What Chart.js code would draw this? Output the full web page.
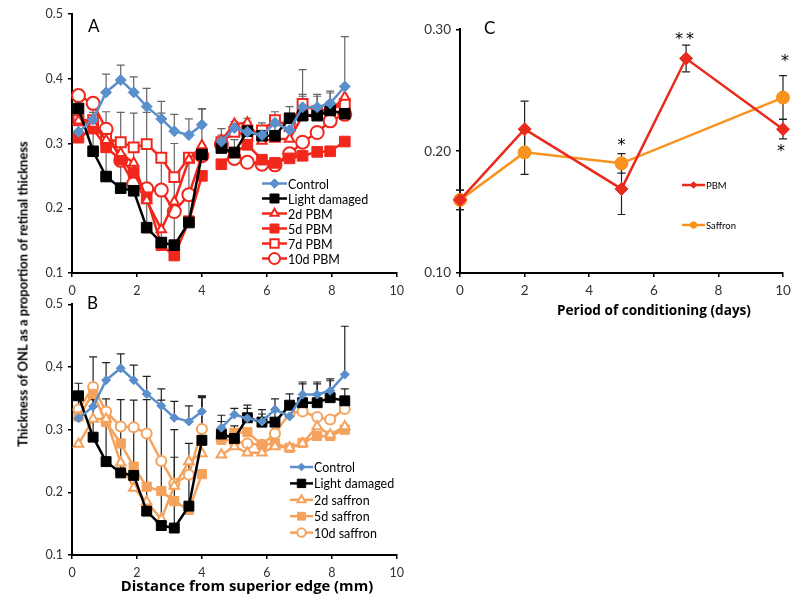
<!DOCTYPE html>
<html>
<head>
<meta charset="utf-8">
<script src="https://cdn.jsdelivr.net/npm/chart.js@4.4.1/dist/chart.umd.min.js"></script>
<style>
  body { margin: 0; width: 800px; height: 597px; background: #fff; position: relative; overflow: hidden; font-family: Lato, "Open Sans", sans-serif; }
  canvas { position: absolute; }
  .lbl { position: absolute; color: #000; white-space: nowrap; line-height: 1; }
  .center { transform: translate(-50%, -50%); }
</style>
</head>
<body>
<canvas id="chartA" width="410" height="300" style="left:0;top:0"></canvas>
<canvas id="chartB" width="410" height="307" style="left:0;top:290px"></canvas>
<canvas id="chartC" width="400" height="330" style="left:400px;top:0"></canvas>

<div class="lbl" style="left:88px;top:17px;font-size:17px">A</div>
<div class="lbl" style="left:87px;top:294px;font-size:17px">B</div>
<div class="lbl" style="left:484px;top:19px;font-size:17px">C</div>
<div class="lbl" style="left:23px;top:294px;font-size:13px;font-weight:bold;transform:translate(-50%,-50%) rotate(-90deg)">Thickness of ONL as a proportion of retinal thickness</div>
<div class="lbl center" style="left:247px;top:585px;font-size:14.8px;font-weight:bold;font-family:'Open Sans',sans-serif">Distance from superior edge (mm)</div>
<div class="lbl center" style="left:654px;top:310px;font-size:13.6px;font-weight:bold;font-family:'Open Sans',sans-serif">Period of conditioning (days)</div>

<script>
// distance from superior edge (mm) - inferior and superior halves
const distance = [0.2, 0.65, 1.05, 1.5, 1.9, 2.3, 2.75, 3.15, 3.6, 4.0, 4.6, 5.0, 5.4, 5.85, 6.25, 6.7, 7.1, 7.55, 7.95, 8.4];

const control = [0.318, 0.337, 0.379, 0.398, 0.379, 0.357, 0.338, 0.319, 0.313, 0.329, 0.303, 0.324, 0.318, 0.313, 0.332, 0.321, 0.356, 0.356, 0.362, 0.388];
const controlErr = [0.035, 0.03, 0.028, 0.023, 0.024, 0.028, 0.027, 0.026, 0.025, 0.025, 0.02, 0.01, 0.016, 0.012, 0.017, 0.02, 0.02, 0.02, 0.016, 0.077];
const lightDamaged = [0.354, 0.288, 0.249, 0.231, 0.227, 0.17, 0.147, 0.143, 0.178, 0.283, 0.293, 0.286, 0.319, 0.312, 0.312, 0.339, 0.343, 0.343, 0.351, 0.346];
const lightDamagedErr = [0.02, 0.06, 0.1, 0.117, 0.12, 0.178, 0.2, 0.157, 0.1, 0.07, 0.02, 0.02, 0.02, 0.02, 0.02, 0.018, 0.03, 0.03, 0.03, 0.019];

const pbm2d = [0.335, 0.33, 0.305, 0.285, 0.27, 0.212, 0.167, 0.21, 0.275, 0.297, 0.305, 0.33, 0.332, 0.304, 0.307, 0.307, 0.343, 0.345, 0.35, 0.372];
const pbm5d = [0.309, 0.323, 0.294, 0.275, 0.255, 0.217, 0.143, 0.127, 0.18, 0.25, 0.268, 0.286, 0.298, 0.275, 0.27, 0.277, 0.281, 0.287, 0.288, 0.303];
const pbm7d = [0.336, 0.336, 0.307, 0.302, 0.294, 0.299, 0.278, 0.248, 0.278, 0.283, 0.302, 0.318, 0.312, 0.32, 0.336, 0.327, 0.361, 0.35, 0.353, 0.361];
const pbm7dErr = [null, null, null, null, null, null, null, null, null, null, null, null, null, null, null, null, 0.053, null, null, null];
const pbm10d = [0.374, 0.362, 0.322, 0.274, 0.238, 0.23, 0.228, 0.195, 0.221, 0.281, 0.299, 0.277, 0.271, 0.268, 0.267, 0.284, 0.302, 0.317, 0.335, 0.345];

const saffron2d = [0.277, 0.317, 0.317, 0.247, 0.207, 0.185, 0.157, 0.21, 0.249, 0.262, 0.26, 0.273, 0.263, 0.263, 0.273, 0.271, 0.278, 0.305, 0.292, 0.305];
const saffron5d = [0.321, 0.357, 0.312, 0.278, 0.241, 0.209, 0.202, 0.186, 0.172, 0.229, 0.284, 0.295, 0.296, 0.276, 0.278, 0.271, 0.279, 0.29, 0.29, 0.3];
const saffron10d = [0.332, 0.368, 0.329, 0.305, 0.304, 0.294, 0.25, 0.214, 0.228, 0.301, 0.285, 0.281, 0.278, 0.276, 0.294, 0.326, 0.329, 0.32, 0.316, 0.333];
const saffron10dErr = [null, 0.048, null, null, null, null, null, 0.042, null, 0.05, null, null, null, null, null, null, null, null, null, null];

// panel C
const days = [0, 2, 5, 7, 10];
const pbmMean = [0.16, 0.218, 0.169, 0.276, 0.218];
const pbmErr = [0.008, 0.023, 0.021, 0.011, 0.008];
const saffronDays = [0, 2, 5, 10];
const saffronMean = [0.16, 0.199, 0.19, 0.244];
const saffronErr = [0.008, 0.018, 0.008, 0.018];
const starMarks = [
  { day: 5, value: 0.208, text: "*" },
  { day: 6.78, value: 0.295, text: "*" },
  { day: 7.12, value: 0.295, text: "*" },
  { day: 10.06, value: 0.277, text: "*" },
  { day: 9.94, value: 0.203, text: "*" }
];

const RED = "#f2271c";
const ORANGE = "#f5a25d";
const BLUE = "#5b8fcb";

// split into two line segments (gap between 4.0 and 4.6)
function toPoints(xs, ys, errs) {
  const pts = [];
  xs.forEach(function (x, i) {
    pts.push({ x: x, y: ys[i], err: errs ? errs[i] : null });
    if (i === 9) pts.push({ x: 4.3, y: null, err: null });
  });
  return pts;
}

function series(label, ys, errs, color, style, radius, open) {
  return {
    label: label,
    data: toPoints(distance, ys, errs),
    borderColor: color,
    backgroundColor: color,
    borderWidth: 2.5,
    pointStyle: style,
    pointRadius: radius,
    pointHoverRadius: radius,
    pointBackgroundColor: open ? "#fff" : color,
    pointBorderColor: color,
    pointBorderWidth: open ? 2 : 1,
    spanGaps: false,
    clip: false,
    tension: 0
  };
}

const errorBars = {
  id: "errorBars",
  beforeDatasetsDraw(chart, args, opts) {
    const ctx = chart.ctx;
    const xs = chart.scales.x, ys = chart.scales.y;
    ctx.save();
    ctx.strokeStyle = opts.color || "#000";
    ctx.lineWidth = 1.2;
    chart.data.datasets.forEach(function (ds) {
      ds.data.forEach(function (p) {
        if (p.y == null || p.err == null) return;
        const px = xs.getPixelForValue(p.x);
        const py = ys.getPixelForValue(p.y);
        const hi = ys.getPixelForValue(p.y + p.err);
        const lo = opts.both ? ys.getPixelForValue(p.y - p.err) : py;
        ctx.beginPath();
        ctx.moveTo(px, lo); ctx.lineTo(px, hi);
        ctx.moveTo(px - 4, hi); ctx.lineTo(px + 4, hi);
        if (opts.both) { ctx.moveTo(px - 4, lo); ctx.lineTo(px + 4, lo); }
        ctx.stroke();
      });
    });
    ctx.restore();
  }
};

const boxLegend = {
  id: "boxLegend",
  afterDraw(chart, args, opts) {
    const ctx = chart.ctx;
    ctx.save();
    ctx.font = opts.font;
    ctx.textBaseline = "middle";
    ctx.fillStyle = "#000";
    chart.data.datasets.forEach(function (ds, i) {
      const y = opts.y + i * opts.dy;
      ctx.strokeStyle = ds.borderColor;
      ctx.lineWidth = ds.borderWidth;
      ctx.beginPath();
      ctx.moveTo(opts.x, y);
      ctx.lineTo(opts.x + opts.len, y);
      ctx.stroke();
      ctx.fillStyle = ds.pointBackgroundColor;
      ctx.strokeStyle = ds.pointBorderColor;
      ctx.lineWidth = ds.pointBorderWidth;
      Chart.helpers.drawPoint(ctx, { pointStyle: ds.pointStyle, radius: ds.pointRadius * (opts.scale || 1), borderWidth: ds.pointBorderWidth, rotation: 0 }, opts.x + opts.len / 2, y);
      ctx.fillStyle = "#000";
      ctx.fillText(ds.label, opts.x + opts.len + 1, y + 1);
    });
    ctx.restore();
  }
};

const starText = {
  id: "starText",
  afterDatasetsDraw(chart, args, opts) {
    if (!opts.items) return;
    const ctx = chart.ctx;
    const size = 16;
    ctx.save();
    ctx.font = size + "px 'DejaVu Sans', sans-serif";
    ctx.fillStyle = "#000";
    ctx.textAlign = "center";
    ctx.textBaseline = "alphabetic";
    opts.items.forEach(function (s) {
      ctx.fillText(s.text, chart.scales.x.getPixelForValue(s.day), chart.scales.y.getPixelForValue(s.value) + size * 0.55);
    });
    ctx.restore();
  }
};

Chart.register(errorBars, boxLegend, starText);

function axes(yMin, yMax, yStep, yDigits, yWidth, xHeight, tickPad, fontSize) {
  return {
    x: {
      type: "linear", min: 0, max: 10,
      ticks: { stepSize: 2, color: "#333", font: { size: fontSize }, padding: tickPad },
      grid: { display: true, drawOnChartArea: false, drawTicks: true, tickLength: 4, color: "#000", lineWidth: 1.5 },
      border: { color: "#000", width: 2 },
      afterFit: function (s) { s.height = xHeight; }
    },
    y: {
      min: yMin, max: yMax,
      ticks: { stepSize: yStep, color: "#333", font: { size: fontSize }, padding: 5,
        callback: function (v) { return v.toFixed(yDigits); } },
      grid: { display: true, drawOnChartArea: false, drawTicks: true, tickLength: 4, color: "#000", lineWidth: 1.5 },
      border: { color: "#000", width: 2 },
      afterFit: function (s) { s.width = yWidth; }
    }
  };
}

Chart.defaults.font.family = "Lato, 'Open Sans', sans-serif";

new Chart(document.getElementById("chartA"), {
  type: "line",
  data: {
    datasets: [
      series("Control", control, controlErr, BLUE, "rectRot", 5.5, false),
      series("Light damaged", lightDamaged, lightDamagedErr, "#000", "rect", 7.5, false),
      series("2d PBM", pbm2d, null, RED, "triangle", 5.5, true),
      series("5d PBM", pbm5d, null, RED, "rect", 7.5, false),
      series("7d PBM", pbm7d, pbm7dErr, RED, "rect", 7, true),
      series("10d PBM", pbm10d, null, RED, "circle", 6.5, true)
    ]
  },
  options: {
    responsive: false, animation: false,
    layout: { padding: { left: 0, top: 14, right: 13, bottom: 0 } },
    scales: axes(0.1, 0.5, 0.1, 1, 72, 27, 6, 12.5),
    plugins: {
      legend: { display: false }, tooltip: { enabled: false },
      errorBars: { color: "#666" },
      boxLegend: { x: 262, y: 183.5, dy: 15, len: 25, font: "12.5px Lato, sans-serif", scale: 0.85 }
    }
  }
});

new Chart(document.getElementById("chartB"), {
  type: "line",
  data: {
    datasets: [
      series("Control", control, controlErr, BLUE, "rectRot", 4.5, false),
      series("Light damaged", lightDamaged, lightDamagedErr, "#000", "rect", 7, false),
      series("2d saffron", saffron2d, null, ORANGE, "triangle", 5.5, true),
      series("5d saffron", saffron5d, null, ORANGE, "rect", 6.5, false),
      series("10d saffron", saffron10d, saffron10dErr, ORANGE, "circle", 5, true)
    ]
  },
  options: {
    responsive: false, animation: false,
    layout: { padding: { left: 0, top: 14.3, right: 13, bottom: 0 } },
    scales: axes(0.1, 0.5, 0.1, 1, 72, 42, 6, 12.5),
    plugins: {
      legend: { display: false }, tooltip: { enabled: false },
      errorBars: { color: "#222" },
      boxLegend: { x: 290, y: 177, dy: 16.4, len: 23, font: "12.5px Lato, sans-serif", scale: 0.85 }
    }
  }
});

new Chart(document.getElementById("chartC"), {
  type: "line",
  data: {
    datasets: [
      {
        label: "PBM",
        data: days.map(function (d, i) { return { x: d, y: pbmMean[i], err: pbmErr[i] }; }),
        borderColor: "#ea2a1c", backgroundColor: "#ea2a1c", borderWidth: 2.5,
        pointStyle: "rectRot", pointRadius: 6.5, pointHoverRadius: 6.5,
        pointBackgroundColor: "#ea2a1c", pointBorderColor: "#ea2a1c", pointBorderWidth: 1,
        clip: false
      },
      {
        label: "Saffron",
        data: saffronDays.map(function (d, i) { return { x: d, y: saffronMean[i], err: saffronErr[i] }; }),
        borderColor: "#f7931e", backgroundColor: "#f7931e", borderWidth: 2.5,
        pointStyle: "circle", pointRadius: 6.5, pointHoverRadius: 6.5,
        pointBackgroundColor: "#f7931e", pointBorderColor: "#f7931e", pointBorderWidth: 1,
        clip: false
      }
    ]
  },
  options: {
    responsive: false, animation: false,
    layout: { padding: { left: 0, top: 29.3, right: 17, bottom: 0 } },
    scales: axes(0.1, 0.3, 0.1, 2, 60, 57, 6, 13.5),
    plugins: {
      legend: { display: false }, tooltip: { enabled: false },
      errorBars: { color: "#222", both: true },
      boxLegend: { x: 282, y: 185, dy: 40, len: 23, font: "9.5px Lato, sans-serif", scale: 0.5 },
      starText: { items: starMarks }
    }
  }
});
</script>
</body>
</html>
